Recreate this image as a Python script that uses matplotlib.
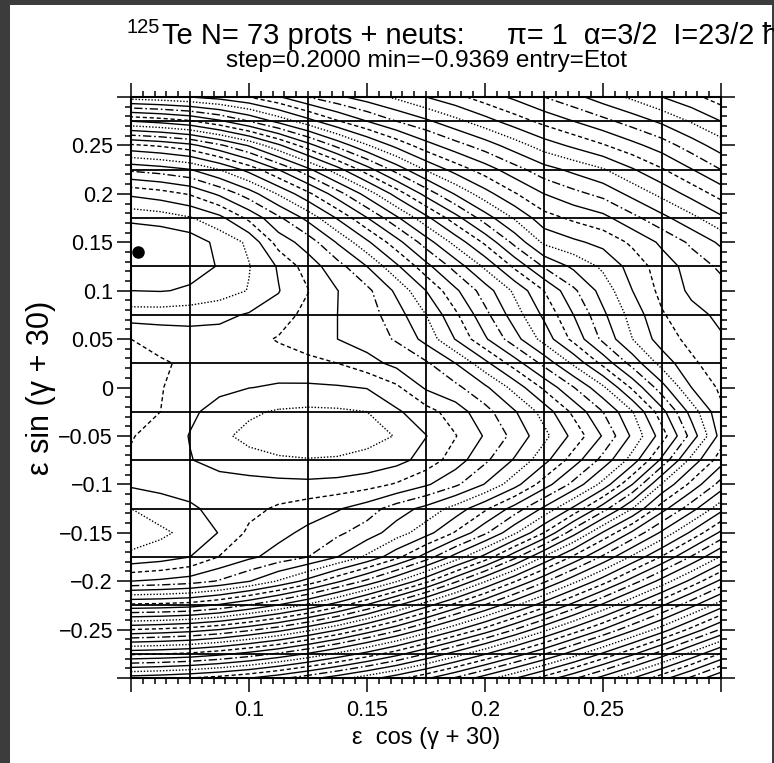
import numpy as np
import matplotlib
matplotlib.use('Agg')
import matplotlib.pyplot as plt
from matplotlib.patches import Rectangle
from matplotlib.ticker import MultipleLocator, FuncFormatter

plt.rcParams['font.family'] = ['Liberation Sans', 'DejaVu Sans']

# --- donnees ---
e_min = -0.9369
e_step = 0.2
x_nodes = [0.05, 0.0625, 0.075, 0.0875, 0.1, 0.1125, 0.125, 0.1375, 0.15, 0.1625, 0.175,
           0.1875, 0.2, 0.2125, 0.225, 0.2375, 0.25, 0.2625, 0.275, 0.2875, 0.3]
y_nodes = [0.3, 0.275, 0.25, 0.225, 0.2, 0.175, 0.15, 0.125, 0.1, 0.075, 0.05, 0.025, 0.0,
           -0.025, -0.05, -0.075, -0.1, -0.125, -0.15, -0.175, -0.2, -0.225, -0.25, -0.275, -0.3]
# nombre de pas au-dessus du minimum, une ligne par valeur de y
n_steps = [
    [20.5, 20.7, 21.0, 21.4, 22.0, 22.9, 24.0, 24.8, 25.5, 26.2, 27.0, 27.7, 28.5, 29.2, 30.0, 30.7, 31.5, 32.2, 33.0, 33.7, 34.5],
    [15.0, 15.35, 15.85, 16.8, 18.0, 19.3, 20.6, 21.9, 23.0, 24.0, 24.8, 25.7, 26.6, 27.5, 28.3, 29.0, 29.7, 30.45, 31.2, 32.1, 33.0],
    [9.8, 10.15, 10.7, 11.8, 13.1, 14.8, 16.6, 18.3, 19.9, 21.3, 22.6, 23.6, 24.5, 25.5, 26.5, 27.2, 27.9, 28.7, 29.5, 30.5, 31.5],
    [6.2, 6.5, 6.95, 8.0, 9.35, 11.0, 12.75, 14.6, 16.55, 18.4, 20.1, 21.4, 22.5, 23.6, 24.6, 25.25, 25.9, 26.9, 27.9, 28.95, 30.0],
    [3.2, 3.55, 4.1, 5.2, 6.5, 8.1, 9.75, 11.55, 13.4, 15.4, 17.35, 19.1, 20.6, 21.9, 23.0, 23.7, 24.3, 25.3, 26.3, 27.35, 28.4],
    [1.25, 1.45, 1.9, 2.7, 4.25, 5.8, 7.3, 9.1, 10.95, 12.8, 14.7, 16.6, 18.5, 20.1, 21.6, 22.2, 22.7, 23.7, 24.7, 25.7, 26.8],
    [0.05, 0.15, 0.4, 1.3, 2.2, 4.45, 5.45, 7.1, 8.8, 10.6, 12.5, 14.35, 16.2, 18.3, 20.2, 20.8, 21.3, 22.2, 23.2, 24.2, 25.2],
    [0.3, 0.35, 0.7, 1.05, 1.95, 3.1, 4.5, 5.6, 7.0, 8.8, 10.65, 12.4, 14.2, 16.2, 18.1, 19.2, 20.2, 21.4, 22.5, 23.4, 24.2],
    [1.0, 0.95, 1.1, 1.5, 2.05, 2.95, 3.95, 4.98, 5.75, 7.2, 9.0, 10.8, 12.5, 14.2, 16.0, 17.8, 19.4, 21.0, 22.3, 23.2, 23.6],
    [2.5, 2.5, 2.6, 2.75, 3.1, 3.4, 4.4, 5.0, 5.55, 6.55, 8.0, 9.8, 11.7, 13.5, 15.2, 17.0, 18.8, 20.4, 21.9, 22.7, 23.2],
    [4.0, 3.7, 3.45, 3.4, 3.6, 4.1, 4.55, 5.0, 5.5, 6.1, 7.33, 9.05, 10.85, 12.6, 14.4, 16.3, 18.25, 20.0, 21.5, 22.3, 22.9],
    [4.3, 4.1, 3.85, 3.55, 3.4, 3.45, 3.7, 4.0, 4.6, 5.3, 5.85, 7.0, 8.7, 10.5, 12.3, 14.2, 16.3, 18.4, 20.4, 21.8, 22.6],
    [4.35, 4.05, 3.6, 3.25, 3.02, 2.9, 2.85, 2.9, 3.05, 3.8, 5.15, 5.75, 6.8, 8.35, 10.2, 11.95, 13.8, 16.2, 18.6, 21.0, 22.2],
    [4.3, 4.0, 3.2, 2.6, 2.15, 1.9, 1.8, 1.85, 2.0, 2.85, 3.6, 4.5, 5.65, 6.9, 8.4, 10.25, 12.0, 13.95, 16.65, 19.4, 21.8],
    [4.05, 3.7, 2.95, 2.2, 1.75, 1.5, 1.4, 1.45, 1.65, 2.05, 2.97, 3.95, 5.1, 6.3, 7.7, 9.3, 11.1, 13.2, 15.5, 18.4, 21.4],
    [3.9, 3.45, 3.05, 2.6, 2.3, 2.12, 2.05, 2.1, 2.3, 2.65, 3.4, 4.5, 5.8, 7.1, 8.65, 10.5, 12.35, 14.45, 17.25, 20.35, 22.55],
    [3.15, 3.3, 3.4, 3.45, 3.4, 3.3, 3.25, 3.35, 3.6, 4.1, 4.85, 5.8, 7.05, 8.6, 10.5, 12.3, 14.35, 17.0, 20.1, 22.3, 24.4],
    [2.0, 2.5, 2.85, 3.3, 3.7, 4.15, 4.5, 4.9, 5.5, 6.5, 7.3, 8.4, 9.8, 11.4, 13.2, 15.2, 17.55, 20.0, 22.6, 24.6, 26.65],
    [1.5, 1.8, 2.3, 3.05, 4.2, 4.7, 5.25, 5.8, 6.5, 7.5, 8.6, 10.1, 11.8, 13.8, 16.0, 18.6, 21.1, 23.2, 25.2, 27.2, 29.2],
    [2.2, 2.5, 3.0, 4.05, 4.8, 5.4, 6.0, 7.0, 8.2, 9.7, 11.45, 13.4, 15.35, 17.7, 20.1, 22.2, 24.2, 26.2, 28.1, 30.1, 32.1],
    [5.0, 5.2, 5.5, 6.1, 6.95, 8.1, 9.35, 10.8, 12.25, 13.9, 15.7, 17.8, 19.9, 21.9, 23.8, 25.7, 27.55, 29.5, 31.4, 33.3, 35.25],
    [10.3, 10.4, 10.6, 11.2, 12.1, 13.1, 14.25, 15.6, 17.15, 18.9, 20.65, 22.4, 24.1, 25.85, 27.6, 29.4, 31.25, 33.1, 34.9, 36.75, 38.6],
    [16.0, 16.2, 16.5, 17.0, 17.75, 18.6, 19.7, 20.9, 22.3, 23.7, 25.25, 26.8, 28.35, 30.0, 31.7, 33.4, 35.05, 36.8, 38.5, 40.3, 42.1],
    [21.8, 21.95, 22.2, 22.7, 23.35, 24.15, 25.1, 26.2, 27.35, 28.6, 30.0, 31.45, 32.9, 34.4, 35.9, 37.5, 39.15, 40.8, 42.5, 44.3, 46.1],
    [27.5, 27.7, 28.0, 28.4, 28.95, 29.7, 30.6, 31.55, 32.55, 33.6, 34.8, 36.1, 37.5, 38.9, 40.35, 41.8, 43.35, 44.95, 46.6, 48.2, 49.9],
]
min_point = (0.0531, 0.140)
mesh_x = [0.075, 0.125, 0.175, 0.225, 0.275]
mesh_y = [0.275, 0.225, 0.175, 0.125, 0.075, 0.025, -0.025, -0.075, -0.125, -0.175, -0.225, -0.275]

titre_a = 'Te N= 73 prots + neuts:'
titre_b = '\u03c0= 1  \u03b1=3/2  I=23/2 \u0127'
sous_titre = 'step=0.2000 min=\u22120.9369 entry=Etot'

# --- figure ---
W, H = 774, 763
fig = plt.figure(figsize=(W / 100, H / 100), dpi=100)
fig.patch.set_facecolor('#3c3c3c')
fig.patches.append(Rectangle((10 / W, 0), (772 - 10) / W, (H - 5) / H,
                             transform=fig.transFigure, facecolor='white',
                             edgecolor='none', zorder=-5))

ax = fig.add_axes([131 / W, 1 - 678 / H, 590 / W, 581 / H])

E = e_min + e_step * np.array(n_steps)
k_max = int(np.ceil(np.max(n_steps)))
ks = np.arange(1, k_max + 1)
niveaux = e_min + e_step * ks
styles = []
for k in ks:
    if k % 2 == 1:
        styles.append('solid')
    elif k % 6 == 2:
        styles.append((0, (1, 1.3)))
    elif k % 6 == 4:
        styles.append((0, (3, 2)))
    else:
        styles.append((0, (6, 2, 1.2, 2)))
ax.contour(x_nodes, y_nodes, E, levels=niveaux, colors='black',
           linewidths=1.0, linestyles=styles)

for xv in mesh_x:
    ax.axvline(xv, color='black', lw=1.3)
for yv in mesh_y:
    ax.axhline(yv, color='black', lw=1.3)
ax.plot(*min_point, 'o', color='black', ms=8)

ax.set_xlim(0.05, 0.3)
ax.set_ylim(-0.3, 0.3)
for s in ax.spines.values():
    s.set_linewidth(1.5)


def fmt(v, pos):
    if abs(v) > 0.2999 or abs(v - 0.05) < 1e-6:
        return ''
    return ('%g' % round(v, 3)).replace('-', '\u2212')


def fmt_y(v, pos):
    if abs(v) > 0.2999:
        return ''
    return ('%g' % round(v, 3)).replace('-', '\u2212')


ax.xaxis.set_major_locator(MultipleLocator(0.05))
ax.xaxis.set_minor_locator(MultipleLocator(0.005))
ax.yaxis.set_major_locator(MultipleLocator(0.05))
ax.yaxis.set_minor_locator(MultipleLocator(0.01))
ax.xaxis.set_major_formatter(FuncFormatter(fmt))
ax.yaxis.set_major_formatter(FuncFormatter(fmt_y))
ax.tick_params(which='both', direction='out', top=True, right=True, width=1.1,
               labelsize=15.5, colors='black')
ax.tick_params(which='major', length=10)
ax.tick_params(axis='x', which='major', pad=6)
ax.tick_params(axis='y', which='major', pad=3)
ax.tick_params(which='minor', length=4.5)

ax.set_xlabel('\u03b5  cos (\u03b3 + 30)', fontsize=17, labelpad=4)
ax.set_ylabel('\u03b5 sin (\u03b3 + 30)', fontsize=22, labelpad=2)

fig.text(127 / W, 1 - 33 / H, '125', fontsize=14.5, va='baseline', ha='left')
fig.text(162 / W, 1 - 43.5 / H, titre_a, fontsize=21, va='baseline', ha='left')
fig.text(507 / W, 1 - 43.5 / H, titre_b, fontsize=20.8, va='baseline', ha='left')
fig.text(426 / W, 1 - 67 / H, sous_titre, fontsize=17.5, va='baseline', ha='center')

fig.savefig('out.png', dpi=100, facecolor=fig.get_facecolor())
